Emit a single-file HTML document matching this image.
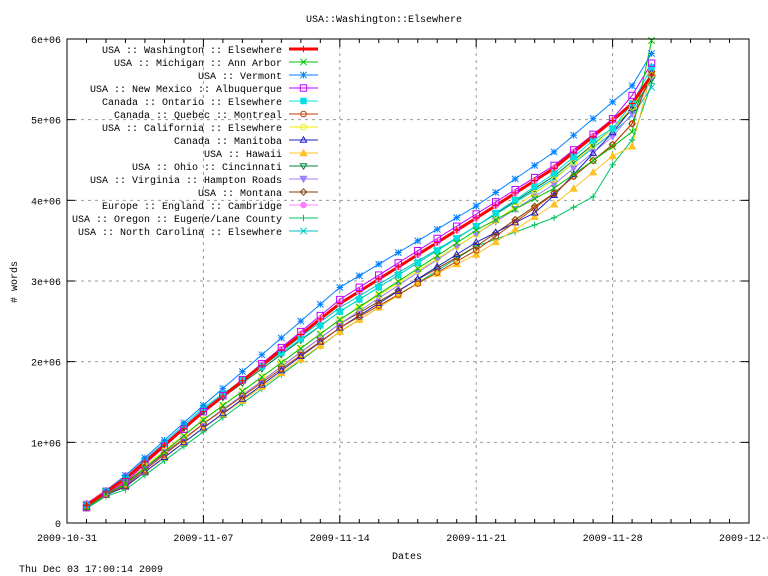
<!DOCTYPE html><html><head><meta charset="utf-8"><style>body{margin:0;background:#fff}svg{display:block}text{font-family:"Liberation Mono",monospace;font-size:10px;fill:#000}</style></head><body>
<svg id="s" width="768" height="576" xmlns="http://www.w3.org/2000/svg"></svg>
<script>
const L=67,R=749,T=39,B=523;
const X=d=>L+(d+0)*136.4/7, Y=v=>B-v*80.67;
let h='';
h+='<text x="384" y="22" text-anchor="middle">USA::Washington::Elsewhere</text>';
for(let i=1;i<6;i++){h+=`<line x1="${L}" x2="${R}" y1="${Y(i)}" y2="${Y(i)}" stroke="#999" stroke-dasharray="3,4"/>`;}
for(let w=1;w<5;w++){h+=`<line x1="${X(w*7)}" x2="${X(w*7)}" y1="${T}" y2="${B}" stroke="#999" stroke-dasharray="3,4"/>`;}
const yl=['0','1e+06','2e+06','3e+06','4e+06','5e+06','6e+06'];
for(let i=0;i<=6;i++){h+=`<line x1="${L}" x2="${L+8}" y1="${Y(i)}" y2="${Y(i)}" stroke="#000"/><line x1="${R}" x2="${R-8}" y1="${Y(i)}" y2="${Y(i)}" stroke="#000"/><text x="61" y="${Y(i)+4}" text-anchor="end">${yl[i]}</text>`;}
const xl=['2009-10-31','2009-11-07','2009-11-14','2009-11-21','2009-11-28','2009-12-05'];
for(let d=0;d<=35;d++){const m=d%7==0?8:4;h+=`<line x1="${X(d)}" x2="${X(d)}" y1="${B}" y2="${B-m}" stroke="#000"/><line x1="${X(d)}" x2="${X(d)}" y1="${T}" y2="${T+m}" stroke="#000"/>`;if(d%7==0)h+=`<text x="${X(d)}" y="541" text-anchor="middle">${xl[d/7]}</text>`;}
h+=`<text x="407" y="559" text-anchor="middle">Dates</text>`;
h+=`<text transform="translate(17,282) rotate(-90)" text-anchor="middle"># words</text>`;
h+=`<text x="19" y="572">Thu Dec 03 17:00:14 2009</text>`;
const bk=[[1,0.22],[3,0.55],[7,1.38],[14,2.72],[21,3.78],[25,4.4],[28,4.99],[29,5.2],[30,5.55]];
function interp(k,d){for(let i=0;i<k.length-1;i++){if(d>=k[i][0]&&d<=k[i+1][0]){const t=(d-k[i][0])/(k[i+1][0]-k[i][0]);return k[i][1]+t*(k[i+1][1]-k[i][1]);}}return d<k[0][0]?k[0][1]:k[k.length-1][1];}
const S=[
['USA :: Washington :: Elsewhere','#ff0000','plus',[[1,0],[30,0]],3],
['USA :: Michigan :: Ann Arbor','#00c000','x',[[1,-0.05],[7,-0.1],[14,-0.2],[21,-0.15],[27,-0.3],[29,-0.35],[30,0.43]],1],
['USA :: Vermont','#0080ff','star',[[1,0.02],[7,0.08],[14,0.2],[21,0.15],[25,0.2],[28,0.23],[29,0.22],[30,0.27]],1],
['USA :: New Mexico :: Albuquerque','#c000ff','sq',[[1,-0.06],[7,0],[14,0.05],[21,0.05],[28,0.02],[29,0.1],[30,0.15]],1],
['Canada :: Ontario :: Elsewhere','#00e0e0','fsq',[[1,0.0],[7,0.05],[14,-0.1],[21,-0.1],[27,-0.05],[28,-0.1],[30,0.1]],1],
['Canada :: Quebec :: Montreal','#c04000','circ',[[1,-0.05],[7,-0.15],[14,-0.3],[21,-0.4],[26,-0.3],[28,-0.3],[29,-0.25],[30,0.05]],1],
['USA :: California :: Elsewhere','#eeee00','circ',[[1,0],[7,-0.1],[14,-0.2],[21,-0.2],[28,-0.1],[30,0]],1],
['Canada :: Manitoba','#2020c0','tri',[[1,-0.05],[7,-0.2],[14,-0.3],[21,-0.3],[24,-0.4],[28,-0.15],[30,0.03]],1],
['USA :: Hawaii','#ffc020','ftri',[[1,-0.05],[7,-0.2],[14,-0.35],[18,-0.35],[21,-0.45],[26,-0.45],[28,-0.44],[29,-0.53],[30,0.05]],1],
['USA :: Ohio :: Cincinnati','#008040','dtri',[[1,0.02],[7,0],[14,-0.1],[21,-0.1],[28,-0.1],[30,-0.05]],1],
['USA :: Virginia :: Hampton Roads','#a080ff','fdtri',[[1,-0.03],[7,-0.15],[14,-0.25],[21,-0.2],[28,-0.2],[30,-0.05]],1],
['USA :: Montana','#804000','dia',[[1,0],[7,-0.15],[14,-0.25],[21,-0.35],[26,-0.3],[28,-0.3],[29,-0.25],[30,0.05]],1],
['Europe :: England :: Cambridge','#ff80ff','fcirc',[[1,0.05],[7,0.02],[14,0],[21,0],[28,0],[30,0]],1],
['USA :: Oregon :: Eugene/Lane County','#00c060','plus',[[1,-0.08],[7,-0.25],[14,-0.35],[21,-0.35],[24,-0.55],[27,-0.75],[28,-0.55],[29,-0.45],[30,-0.1]],1],
['USA :: North Carolina :: Elsewhere','#00c0c0','x',[[1,-0.03],[7,0.03],[14,-0.05],[21,-0.1],[28,-0.15],[30,-0.15]],1]
];
function mk(t,x,y,c){const r=3.2;switch(t){
case'plus':return `<path d="M${x-r} ${y}h${2*r}M${x} ${y-r}v${2*r}" stroke="${c}"/>`;
case'x':return `<path d="M${x-r} ${y-r}l${2*r} ${2*r}M${x-r} ${y+r}l${2*r} ${-2*r}" stroke="${c}"/>`;
case'star':return `<path d="M${x-r} ${y}h${2*r}M${x} ${y-r}v${2*r}M${x-r} ${y-r}l${2*r} ${2*r}M${x-r} ${y+r}l${2*r} ${-2*r}" stroke="${c}"/>`;
case'sq':return `<rect x="${x-r}" y="${y-r}" width="${2*r}" height="${2*r}" fill="none" stroke="${c}"/>`;
case'fsq':return `<rect x="${x-r}" y="${y-r}" width="${2*r}" height="${2*r}" fill="${c}"/>`;
case'circ':return `<circle cx="${x}" cy="${y}" r="2.8" fill="none" stroke="${c}"/>`;
case'fcirc':return `<circle cx="${x}" cy="${y}" r="3.3" fill="${c}"/>`;
case'tri':return `<path d="M${x} ${y-r}L${x+r} ${y+r-1}H${x-r}Z" fill="none" stroke="${c}"/>`;
case'ftri':return `<path d="M${x} ${y-r-1}L${x+r+1} ${y+r}H${x-r-1}Z" fill="${c}"/>`;
case'dtri':return `<path d="M${x} ${y+r}L${x+r} ${y-r+1}H${x-r}Z" fill="none" stroke="${c}"/>`;
case'fdtri':return `<path d="M${x} ${y+r+1}L${x+r+1} ${y-r}H${x-r-1}Z" fill="${c}"/>`;
case'dia':return `<path d="M${x} ${y-r}L${x+r} ${y}L${x} ${y+r}L${x-r} ${y}Z" fill="none" stroke="${c}"/>`;}}
let lines='',marks='';
S.slice().reverse().forEach(s=>{let p=[];for(let d=1;d<=30;d++){const v=interp(bk,d)+interp(s[3],d)*(d<3?0.5:1);const x=X(d),y=Y(v);p.push(x.toFixed(1)+','+y.toFixed(1));marks+=mk(s[2],x,y,s[1]);}
lines+=`<polyline points="${p.join(' ')}" fill="none" stroke="${s[1]}" stroke-width="${s[4]}"/>`;});
h+=lines+marks;
S.forEach((s,i)=>{const y=49+i*13;h+=`<text x="282" y="${y+4}" text-anchor="end">${s[0]}</text><line x1="289" x2="318" y1="${y}" y2="${y}" stroke="${s[1]}" stroke-width="${s[4]}"/>`+mk(s[2],303.5,y,s[1]);});
h+=`<rect x="${L}" y="${T}" width="${R-L}" height="${B-T}" fill="none" stroke="#000"/>`;
document.getElementById('s').innerHTML=h;
</script></body></html>
